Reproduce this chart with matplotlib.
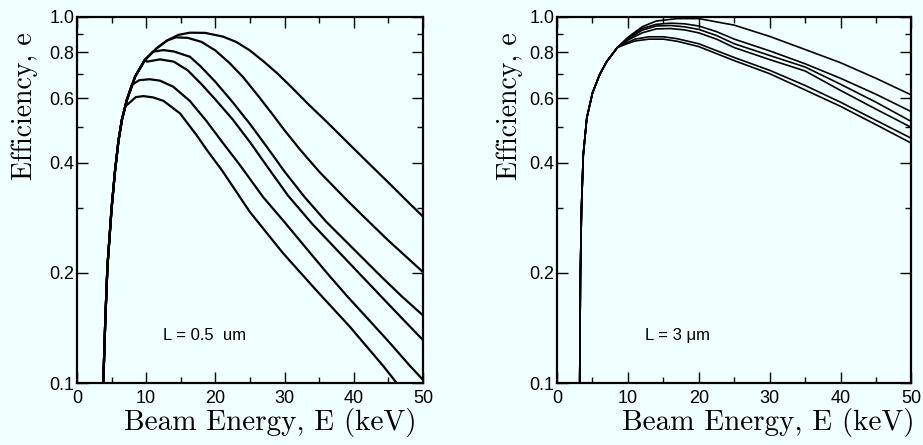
import numpy as np
import matplotlib
matplotlib.use("Agg")
import matplotlib.pyplot as plt
from matplotlib.ticker import FixedLocator, FixedFormatter, NullFormatter

# ---- L = 0.5 um panel ----
# common rising edge, shared by every curve until it branches off
rise_a_E = [3.7, 3.8, 4.1, 4.4, 5.0, 5.5, 6.0, 6.5, 7.2, 8.4, 9.8, 11.5, 13.0]
rise_a_e = [0.08, 0.10, 0.15, 0.208, 0.30, 0.38, 0.46, 0.525, 0.593, 0.687, 0.763, 0.821, 0.862]

curves_a = [
    # (E, e) after branching, top curve first
    ([14.6, 16.3, 18.5, 21.1, 23.0, 25.0, 27.0, 29.0, 31.0, 33.5, 36.0, 39.0, 42.0, 45.0, 48.0, 50.0],
     [0.893, 0.906, 0.905, 0.884, 0.855, 0.810, 0.755, 0.700, 0.643, 0.576, 0.519, 0.456, 0.401, 0.353, 0.310, 0.285]),
    ([14.3, 16.0, 18.0, 20.0, 22.0, 24.0, 26.0, 28.0, 30.0, 32.2, 35.0, 39.0, 42.0, 45.0, 50.0],
     [0.880, 0.877, 0.855, 0.810, 0.750, 0.685, 0.615, 0.550, 0.490, 0.435, 0.378, 0.316, 0.278, 0.245, 0.201]),
    ([11.0, 12.5, 14.0, 16.3, 17.8, 20.0, 22.5, 25.0, 27.5, 30.0, 32.9, 36.0, 40.0, 44.0, 47.0, 50.0],
     [0.804, 0.812, 0.805, 0.779, 0.735, 0.665, 0.585, 0.510, 0.440, 0.378, 0.322, 0.276, 0.232, 0.195, 0.172, 0.153]),
    ([10.1, 12.0, 14.0, 16.0, 18.0, 20.0, 22.5, 25.0, 27.5, 30.5, 34.0, 37.0, 40.7, 44.0, 47.0, 50.0],
     [0.755, 0.766, 0.755, 0.715, 0.655, 0.595, 0.525, 0.455, 0.390, 0.325, 0.272, 0.237, 0.200, 0.172, 0.150, 0.131]),
    ([7.9, 9.0, 10.5, 12.0, 13.9, 16.3, 18.7, 21.0, 23.5, 26.9, 30.0, 33.0, 36.1, 39.0, 42.0, 45.0, 48.0, 50.0],
     [0.652, 0.672, 0.676, 0.670, 0.645, 0.590, 0.520, 0.455, 0.395, 0.322, 0.275, 0.235, 0.200, 0.173, 0.150, 0.130, 0.112, 0.102]),
    ([7.0, 8.5, 9.6, 11.0, 12.5, 14.9, 17.3, 18.7, 21.0, 25.0, 29.8, 34.6, 39.5, 44.3, 46.2, 47.0],
     [0.570, 0.604, 0.608, 0.603, 0.590, 0.545, 0.475, 0.435, 0.380, 0.293, 0.226, 0.179, 0.142, 0.111, 0.100, 0.095]),
]

# ---- L = 3 um panel ----
rise_b_E = [3.15, 3.2, 3.3, 3.45, 3.7, 4.2, 5.0, 6.0, 7.0, 8.5]
rise_b_e = [0.08, 0.10, 0.20, 0.30, 0.42, 0.53, 0.62, 0.695, 0.755, 0.825]

curves_b = [
    ([10.0, 12.0, 14.0, 17.0, 20.0, 25.0, 30.0, 35.0, 40.0, 45.0, 50.0],
     [0.880, 0.940, 0.975, 0.990, 0.990, 0.950, 0.885, 0.815, 0.750, 0.680, 0.612]),
    ([10.0, 12.0, 14.0, 16.0, 18.0, 20.0, 22.5, 25.0, 30.0, 35.0, 40.0, 45.0, 50.0],
     [0.875, 0.930, 0.955, 0.962, 0.958, 0.945, 0.912, 0.870, 0.808, 0.745, 0.680, 0.615, 0.551]),
    ([10.0, 12.0, 14.0, 16.0, 18.0, 20.0, 22.5, 25.0, 30.0, 35.0, 40.0, 45.0, 50.0],
     [0.870, 0.920, 0.945, 0.948, 0.940, 0.925, 0.890, 0.845, 0.785, 0.730, 0.655, 0.585, 0.518]),
    ([10.0, 12.0, 14.0, 16.0, 18.0, 20.0, 22.5, 25.0, 30.0, 35.0, 40.0, 45.0, 50.0],
     [0.865, 0.905, 0.928, 0.930, 0.922, 0.905, 0.870, 0.825, 0.765, 0.712, 0.630, 0.560, 0.499]),
    ([9.5, 11.0, 13.0, 15.0, 17.0, 20.0, 25.0, 30.0, 35.0, 40.0, 45.0, 50.0],
     [0.845, 0.870, 0.883, 0.883, 0.872, 0.845, 0.775, 0.715, 0.650, 0.585, 0.522, 0.466]),
    ([9.5, 11.0, 13.0, 15.0, 17.0, 20.0, 25.0, 30.0, 35.0, 40.0, 45.0, 50.0],
     [0.840, 0.860, 0.870, 0.870, 0.858, 0.830, 0.760, 0.700, 0.632, 0.570, 0.508, 0.452]),
]

panel_labels = ["L = 0.5  um", "L = 3 \u03bcm"]
ytick_vals = [0.1, 0.2, 0.4, 0.6, 0.8, 1.0]
ytick_labels = ["0.1", "0.2", "0.4", "0.6", "0.8", "1.0"]
yminor_vals = [0.3, 0.5, 0.7, 0.9]
xtick_vals = [0, 10, 20, 30, 40, 50]

bg = "#f0ffff"
tickfont = "Liberation Sans"
labelfont = ["cmr10", "DejaVu Serif"]

fig = plt.figure(figsize=(9.23, 4.45), dpi=100, facecolor=bg)
ax1 = fig.add_axes([0.0834, 0.1393, 0.3749, 0.8225])
ax2 = fig.add_axes([0.6035, 0.1393, 0.3840, 0.8225])


def full_curve(rE, re, E, e):
    keep = [i for i in range(len(rE)) if rE[i] < E[0]]
    return [rE[i] for i in keep] + list(E), [re[i] for i in keep] + list(e)


def style(ax, label, ylab_x, xlab_x):
    ax.set_facecolor(bg)
    ax.set_yscale("log")
    ax.set_xlim(0, 50)
    ax.set_ylim(0.1, 1.0)
    ax.yaxis.set_major_locator(FixedLocator(ytick_vals))
    ax.yaxis.set_major_formatter(FixedFormatter(ytick_labels))
    ax.yaxis.set_minor_locator(FixedLocator(yminor_vals))
    ax.yaxis.set_minor_formatter(NullFormatter())
    ax.set_xticks(xtick_vals)
    ax.set_xticks(np.arange(5, 50, 10), minor=True)
    ax.tick_params(which="both", direction="in", top=True, right=True, width=1.0)
    ax.tick_params(which="major", length=8)
    ax.tick_params(which="minor", length=4)
    ax.tick_params(axis="y", pad=2)
    ax.tick_params(axis="x", pad=5)
    for t in ax.get_xticklabels() + ax.get_yticklabels():
        t.set_fontfamily(tickfont)
        t.set_fontsize(13)
    for s in ax.spines.values():
        s.set_linewidth(1.6)
    ax.set_xlabel("Beam Energy, E (keV)", family=labelfont, fontsize=21)
    ax.xaxis.set_label_coords(xlab_x, -0.068)
    ax.set_ylabel("Efficiency, e", family=labelfont, fontsize=20)
    ax.yaxis.set_label_coords(ylab_x, 0.755)
    ax.text(12.4, 0.135, label, family=tickfont, fontsize=12, va="center")


for E, e in curves_a:
    x, y = full_curve(rise_a_E, rise_a_e, E, e)
    ax1.plot(x, y, color="black", lw=1.6)
for E, e in curves_b:
    x, y = full_curve(rise_b_E, rise_b_e, E, e)
    ax2.plot(x, y, color="black", lw=1.2)

style(ax1, panel_labels[0], -0.112, 0.56)
style(ax2, panel_labels[1], -0.096, 0.595)

fig.savefig("out.png", dpi=100, facecolor=bg)
